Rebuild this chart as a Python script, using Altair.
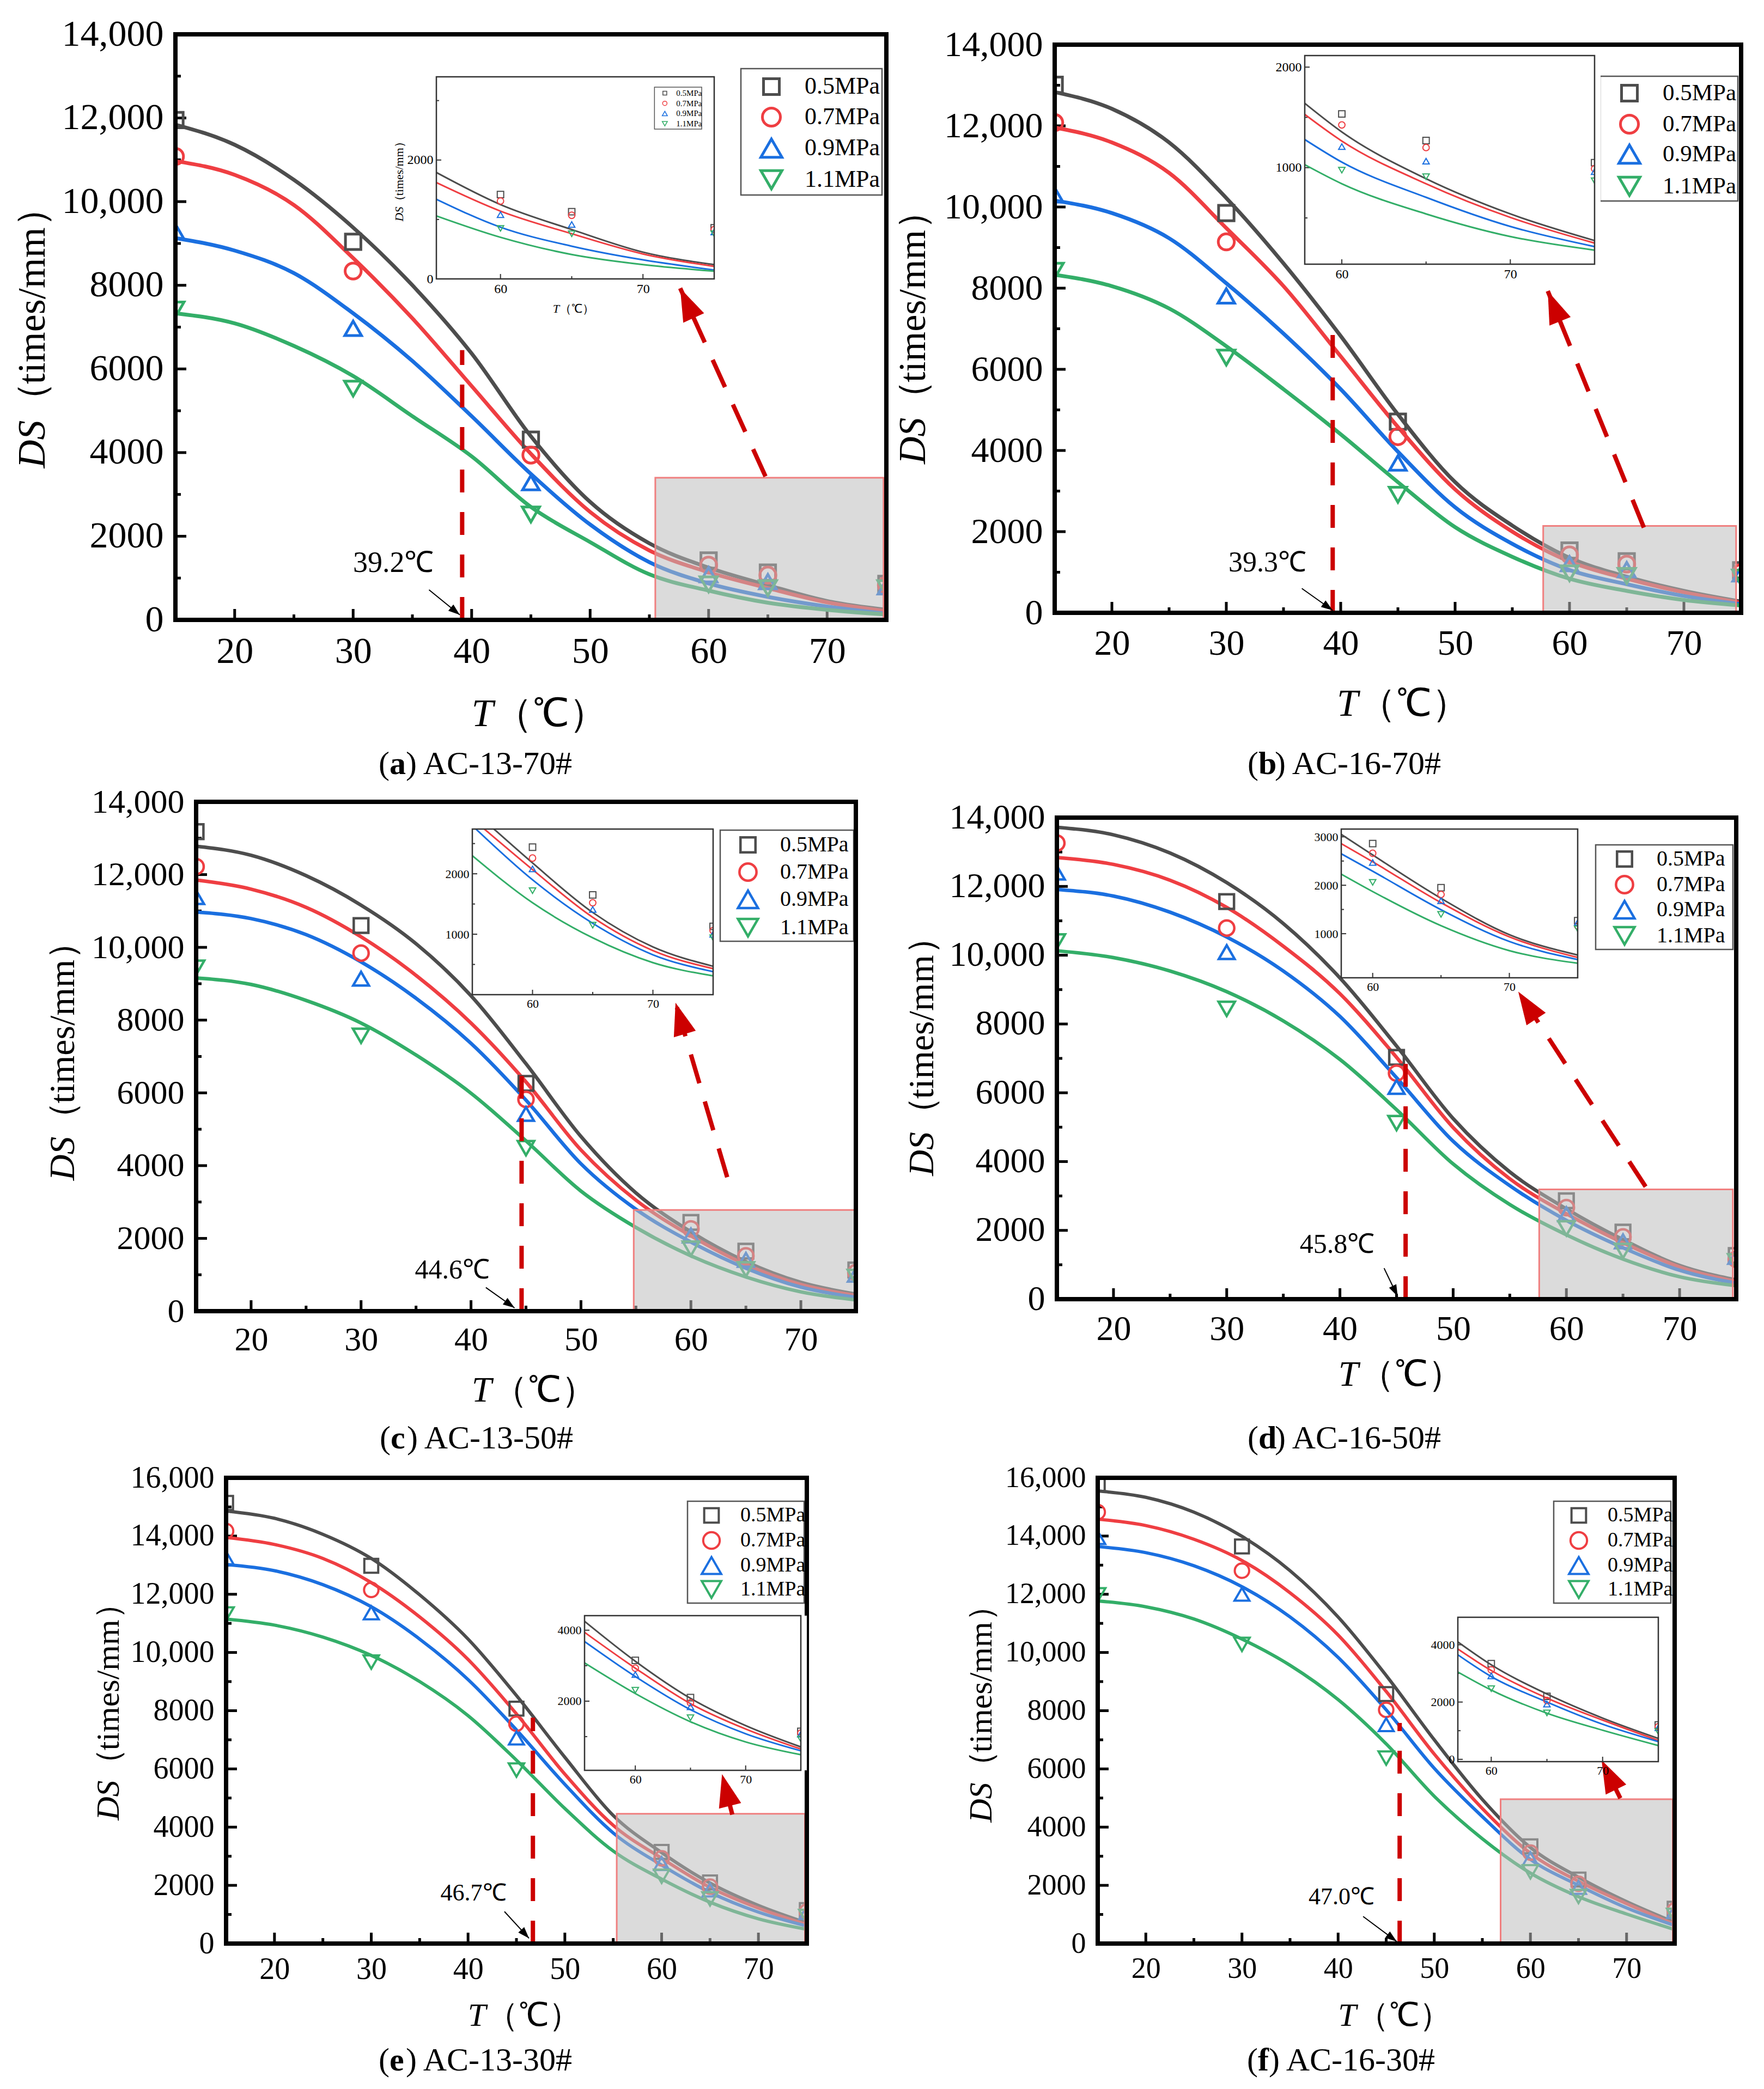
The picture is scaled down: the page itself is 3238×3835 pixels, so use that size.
import math

import altair as alt
import pandas as pd

W, H = 3222, 3819
FONT = "Liberation Serif"

SERIES = ["0.5MPa", "0.7MPa", "0.9MPa", "1.1MPa"]
COLORS = ["#4d4d4d", "#ef3e42", "#1a6fe0", "#33ae68"]
SHAPES = ["square", "circle", "triangle-up", "triangle-down"]

TEMPS = [15, 30, 45, 60, 65, 75]
FIT_T = [15, 20, 25, 30, 35, 40, 45, 50, 55, 60, 65, 70, 75]
X_LABELS = [20, 30, 40, 50, 60, 70]
X_MINOR = [25, 35, 45, 55, 65]

# (a) AC-13-70#
A_POINTS = {
    "0.5MPa": [11950, 9040, 4310, 1420, 1130, 860],
    "0.7MPa": [11080, 8340, 3940, 1310, 1070, 830],
    "0.9MPa": [9290, 6970, 3280, 1080, 915, 790],
    "1.1MPa": [7420, 5530, 2520, 850, 760, 760],
}
A_FIT = {
    "0.5MPa": [11840, 11360, 10520, 9380, 8000, 6370, 4390, 2820, 1830, 1250, 830, 450, 240],
    "0.7MPa": [10970, 10640, 9920, 8650, 7210, 5590, 3970, 2580, 1660, 1140, 760, 420, 210],
    "0.9MPa": [9130, 8830, 8290, 7330, 6190, 4870, 3490, 2280, 1380, 870, 550, 320, 150],
    "1.1MPa": [7330, 7090, 6550, 5830, 4870, 3910, 2700, 1860, 1090, 700, 410, 240, 130],
}
A_EDGE = {"0.5MPa": (55.5, 1790), "0.7MPa": (55.5, 1620), "0.9MPa": (55.5, 1340), "1.1MPa": (55.5, 1060)}

# (b) AC-16-70#
B_POINTS = {
    "0.5MPa": [13010, 9850, 4710, 1535, 1270, 1050],
    "0.7MPa": [12080, 9140, 4340, 1425, 1200, 990],
    "0.9MPa": [10300, 7810, 3690, 1210, 1065, 960],
    "1.1MPa": [8430, 6290, 2910, 975, 910, 870],
}
B_FIT = {
    "0.5MPa": [12830, 12420, 11590, 10220, 8610, 6820, 4890, 3220, 2150, 1355, 890, 540, 275],
    "0.7MPa": [11960, 11590, 10840, 9480, 8050, 6320, 4580, 3040, 2000, 1265, 840, 505, 250],
    "0.9MPa": [10160, 9850, 9230, 8120, 6880, 5510, 3970, 2600, 1700, 1055, 705, 415, 215],
    "1.1MPa": [8330, 8050, 7500, 6570, 5510, 4400, 3220, 2110, 1380, 840, 540, 315, 180],
}
B_EDGE = {"0.5MPa": (57.8, 1640), "0.7MPa": (57.8, 1530), "0.9MPa": (57.8, 1280), "1.1MPa": (57.8, 1030)}

# (c) AC-13-50#
C_POINTS = {
    "0.5MPa": [13180, 10600, 6260, 2440, 1650, 1130],
    "0.7MPa": [12220, 9840, 5820, 2260, 1520, 1060],
    "0.9MPa": [11380, 9140, 5420, 2080, 1410, 1000],
    "1.1MPa": [9440, 7570, 4480, 1720, 1150, 940],
}
C_FIT = {
    "0.5MPa": [12780, 12530, 11970, 11160, 10100, 8670, 6800, 4800, 3250, 2180, 1360, 790, 470],
    "0.7MPa": [11850, 11600, 11100, 10290, 9230, 7920, 6300, 4430, 3050, 2070, 1280, 730, 430],
    "0.9MPa": [10970, 10790, 10350, 9600, 8600, 7360, 5800, 4050, 2800, 1900, 1180, 660, 380],
    "1.1MPa": [9160, 8980, 8540, 7920, 7040, 5990, 4680, 3300, 2300, 1520, 940, 530, 310],
}
C_EDGE = {"0.5MPa": (56.8, 2740), "0.7MPa": (56.0, 2740), "0.9MPa": (55.3, 2740), "1.1MPa": (55.0, 2300)}

# (d) AC-16-50#
D_POINTS = {
    "0.5MPa": [None, 11560, 7030, 2860, 1950, 1270],
    "0.7MPa": [13260, 10790, 6570, 2660, 1810, 1160],
    "0.9MPa": [12400, 10090, 6170, 2470, 1680, 1230],
    "1.1MPa": [10400, 8440, 5120, 2060, 1400, 1100],
}
D_FIT = {
    "0.5MPa": [13720, 13500, 12970, 12110, 10920, 9340, 7360, 5250, 3700, 2625, 1730, 980, 560],
    "0.7MPa": [12840, 12640, 12180, 11390, 10260, 8880, 7030, 4990, 3500, 2485, 1640, 935, 510],
    "0.9MPa": [11910, 11720, 11250, 10530, 9540, 8220, 6440, 4590, 3300, 2290, 1495, 840, 465],
    "1.1MPa": [10130, 9930, 9540, 8940, 8090, 6970, 5510, 3930, 2750, 1870, 1165, 650, 390],
}
D_EDGE = {"0.5MPa": (57.7, 3050), "0.7MPa": (57.7, 2860), "0.9MPa": (57.7, 2650), "1.1MPa": (57.7, 2230)}

# (e) AC-13-30#
E_POINTS = {
    "0.5MPa": [15140, 12980, 8070, 3150, 2100, 1150],
    "0.7MPa": [14170, 12150, 7550, 2930, 1955, 1100],
    "0.9MPa": [13250, 11360, 7060, 2750, 1840, 1070],
    "1.1MPa": [11320, 9670, 5960, 2310, 1535, 930],
}
E_FIT = {
    "0.5MPa": [14860, 14610, 14060, 13230, 11980, 10460, 8520, 6400, 4400, 3125, 2080, 1310, 710],
    "0.7MPa": [13950, 13710, 13230, 12400, 11220, 9760, 7890, 5820, 4060, 2930, 1930, 1215, 650],
    "0.9MPa": [13020, 12810, 12330, 11570, 10460, 9070, 7340, 5470, 3800, 2695, 1760, 1080, 600],
    "1.1MPa": [11150, 10940, 10530, 9900, 9000, 7830, 6300, 4640, 3180, 2215, 1420, 850, 490],
}
E_EDGE = {"0.5MPa": (55.4, 4250), "0.7MPa": (55.4, 3940), "0.9MPa": (55.4, 3680), "1.1MPa": (55.4, 3080)}

# (f) AC-16-30#
F_POINTS = {
    "0.5MPa": [15790, 13640, 8570, 3340, 2200, 1200],
    "0.7MPa": [14820, 12810, 8030, 3125, 2055, 1140],
    "0.9MPa": [13950, 12000, 7520, 2915, 1930, 1100],
    "1.1MPa": [11980, 10280, 6370, 2465, 1620, 970],
}
F_FIT = {
    "0.5MPa": [15550, 15330, 14820, 13990, 12810, 11220, 9210, 7000, 4950, 3300, 2280, 1440, 730],
    "0.7MPa": [14580, 14360, 13890, 13160, 12050, 10600, 8660, 6510, 4640, 3100, 2140, 1370, 660],
    "0.9MPa": [13640, 13430, 12980, 12260, 11220, 9830, 8030, 6020, 4360, 2890, 2000, 1225, 620],
    "1.1MPa": [11770, 11570, 11150, 10460, 9560, 8380, 6860, 5060, 3600, 2420, 1610, 1015, 480],
}
F_EDGE = {"0.5MPa": (57.0, 4100), "0.7MPa": (57.0, 3850), "0.9MPa": (57.0, 3650), "1.1MPa": (57.0, 3050)}

PANELS = [
    dict(points=A_POINTS, fit=A_FIT, edge=A_EDGE, box=(314, 1619, 55, 1130), ymax=14000,
         tick_fs=68, title_fs=72, xt_off=173, yt_off=262, xt_j=-69, yt_j=171,
         caption=("a", "AC-13-70#"), cap_xy=(819, 1395),
         rect=(55.5, 74.76, 3400), crit=(39.2, 6450), label="39.2℃", label_at=(33.4, 1350), label_fs=54,
         black=((36.4, 720), (39.0, 120)), red=((64.8, 3430), (57.6, 7930)),
         ibox=(793, 1303, 133, 504), idom=(55.5, 75, 0, 3400), iy_lab=[0, 2000], iy_min=[1000, 3000],
         i_fs=24, i_titles=True,
         leg=dict(box=(1352, 1611, 118, 350), rows=(151, 207, 264, 322), sx=1408, tx=1469, fs=44, k=1.0),
         psize=[800, 1000, 1500, 1500], psw=5, lw=7),
    dict(points=B_POINTS, fit=B_FIT, edge=B_EDGE, box=(1928, 3188, 74, 1117), ymax=14000,
         tick_fs=66, title_fs=70, xt_off=168, yt_off=259, xt_j=-73, yt_j=163,
         caption=("b", "AC-16-70#"), cap_xy=(2414, 1395),
         rect=(57.7, 74.56, 2140), crit=(39.3, 6880), label="39.3℃", label_at=(33.6, 1240), label_fs=52,
         black=((36.6, 600), (39.3, 60)), red=((66.5, 2100), (58.1, 7930)),
         ibox=(2387, 2919, 94, 477), idom=(57.8, 75, 40, 2115), iy_lab=[1000, 2000], iy_min=[500, 1500],
         i_fs=24, i_titles=False,
         leg=dict(box=(2929, 3182, 132, 361), rows=(163, 220, 275, 334), sx=2983, tx=3044, fs=43, k=1.0),
         psize=[800, 1000, 1500, 1500], psw=5, lw=7),
    dict(points=C_POINTS, fit=C_FIT, edge=C_EDGE, box=(352, 1563, 1464, 2399), ymax=14000,
         tick_fs=62, title_fs=66, xt_off=146, yt_off=244, xt_j=-63, yt_j=147,
         caption=("c", "AC-13-50#"), cap_xy=(821, 2633),
         rect=(54.8, 74.9, 2780), crit=(44.6, 6800), label="44.6℃", label_at=(38.3, 1120), label_fs=50,
         black=((41.35, 650), (43.96, 90)), red=((63.3, 3680), (58.6, 8480)),
         ibox=(859, 1301, 1514, 1818), idom=(55, 75, 0, 2740), iy_lab=[1000, 2000], iy_min=[500, 1500, 2500],
         i_fs=22, i_titles=False,
         leg=dict(box=(1314, 1559, 1516, 1720), rows=(1543, 1593, 1643, 1695), sx=1365, tx=1424, fs=40, k=0.9),
         psize=[720, 900, 1350, 1350], psw=4.5, lw=6.5),
    dict(points=D_POINTS, fit=D_FIT, edge=D_EDGE, box=(1932, 3179, 1493, 2377), ymax=14000,
         tick_fs=64, title_fs=66, xt_off=139, yt_off=247, xt_j=-70, yt_j=135,
         caption=("d", "AC-16-50#"), cap_xy=(2414, 2633),
         rect=(57.6, 74.7, 3190), crit=(45.8, 6970), label="45.8℃", label_at=(39.75, 1580), label_fs=50,
         black=((43.9, 900), (45.1, 80)), red=((67.0, 3270), (55.75, 8940)),
         ibox=(2454, 2888, 1514, 1787), idom=(57.7, 75, 90, 3160), iy_lab=[1000, 2000, 3000],
         iy_min=[1500, 2500], i_fs=22, i_titles=False,
         leg=dict(box=(2921, 3173, 1543, 1735), rows=(1569, 1616, 1662, 1710), sx=2974, tx=3033, fs=40, k=0.9),
         psize=[720, 900, 1350, 1350], psw=4.5, lw=6.5),
    dict(points=E_POINTS, fit=E_FIT, edge=E_EDGE, box=(407, 1473, 2705, 3560), ymax=16000,
         tick_fs=56, title_fs=60, xt_off=133, yt_off=215, xt_j=-56, yt_j=128,
         caption=("e", "AC-13-30#"), cap_xy=(819, 3775),
         rect=(55.36, 74.8, 4460), crit=(46.7, 7760), label="46.7℃", label_at=(40.56, 1730), label_fs=44,
         black=((43.76, 1100), (46.3, 180)), red=((67.3, 4430), (66.24, 5820)),
         ibox=(1065, 1462, 2958, 3242), idom=(55.4, 75, 50, 4410), iy_lab=[2000, 4000],
         iy_min=[1000, 3000], i_fs=22, i_titles=False,
         leg=dict(box=(1254, 1468, 2748, 2935), rows=(2774, 2820, 2866, 2910), sx=1298, tx=1351, fs=38, k=0.85),
         psize=[650, 800, 1200, 1200], psw=4, lw=6),
    dict(points=F_POINTS, fit=F_FIT, edge=F_EDGE, box=(2007, 3066, 2705, 3560), ymax=16000,
         tick_fs=54, title_fs=60, xt_off=133, yt_off=213, xt_j=-55, yt_j=132,
         caption=("f", "AC-16-30#"), cap_xy=(2413, 3775),
         rect=(56.9, 74.8, 4960), crit=(46.4, 7580), label="47.0℃", label_at=(40.35, 1590), label_fs=44,
         black=((42.6, 930), (46.1, 70)), red=((69.35, 4990), (67.4, 6300)),
         ibox=(2668, 3036, 2961, 3226), idom=(57.0, 75, -80, 4960), iy_lab=[0, 2000, 4000],
         iy_min=[1000, 3000], i_fs=22, i_titles=False,
         leg=dict(box=(2844, 3059, 2748, 2935), rows=(2774, 2820, 2866, 2910), sx=2890, tx=2943, fs=38, k=0.85),
         psize=[650, 800, 1200, 1200], psw=4, lw=6),
]

ARROW = "M0,0L0.35,1L-0.35,1Z"
LEGEND_SIZES = [840, 1090, 1500, 1500]
ONE = pd.DataFrame({"k": [0]})
S_COLOR = alt.Scale(domain=SERIES, range=COLORS)
S_STROKE = alt.Scale(domain=SERIES, range=COLORS)
S_SHAPE = alt.Scale(domain=SERIES, range=SHAPES)


def points_df(points):
    rows = []
    for s in SERIES:
        for t, v in zip(TEMPS, points[s]):
            if v is not None:
                rows.append({"series": s, "T": t, "DS": v})
    return pd.DataFrame(rows)


def fit_df(fit):
    rows = []
    for s in SERIES:
        for t, v in zip(FIT_T, fit[s]):
            rows.append({"series": s, "T": t, "DS": v})
    return pd.DataFrame(rows)


def inset_fit_df(fit, edge):
    rows = []
    for s in SERIES:
        t0, v0 = edge[s]
        rows.append({"series": s, "T": t0, "DS": v0})
        for t, v in zip(FIT_T, fit[s]):
            if t > t0:
                rows.append({"series": s, "T": t, "DS": v})
    return pd.DataFrame(rows)


def text_at(x, y, text, fs, **kw):
    style = dict(font=FONT, fontSize=fs, color="black", baseline="middle")
    style.update(kw)
    return alt.Chart(ONE).mark_text(**style).encode(
        x=alt.value(x), y=alt.value(y), text=alt.value(text))


def axis_titles(xc, xy, yx, yc, fs):
    # "T（℃）" under the x axis and "DS（times/mm）" beside the y axis, variable names in italics;
    # the latin part is its own mark so it keeps the serif face
    w_open = 0.92 * fs
    w_unit = 4.0 * fs
    return [
        text_at(xc, xy, "T", fs, align="right", fontStyle="italic"),
        text_at(xc, xy, "（℃）", fs, align="left"),
        text_at(yx, yc, "DS", fs, align="right", fontStyle="italic", angle=270),
        text_at(yx, yc, "（", fs, align="left", angle=270),
        text_at(yx, yc - w_open, "times/mm", fs, align="left", angle=270),
        text_at(yx, yc - w_open - w_unit, "）", fs, align="left", angle=270),
    ]


def legend_layers(box, rows, sym_x, text_x, fs, k, sw, sizes, box_sw):
    x0, x1, y0, y1 = box
    out = [
        alt.Chart(ONE).mark_rect(fill="white", stroke="#555555", strokeWidth=box_sw).encode(
            x=alt.value(x0), x2=alt.value(x1), y=alt.value(y0), y2=alt.value(y1))
    ]
    for i, s in enumerate(SERIES):
        out += [
            alt.Chart(ONE).mark_point(shape=SHAPES[i], filled=False, color=COLORS[i], opacity=1,
                                      size=sizes[i] * k, strokeWidth=sw).encode(
                x=alt.value(sym_x), y=alt.value(rows[i])),
            text_at(text_x, rows[i], s, fs, align="left"),
        ]
    return out


def make_panel(p):
    L, R, T, B = p["box"]
    ymax = p["ymax"]
    y_major = list(range(0, ymax + 1, 2000))
    y_minor = list(range(1000, ymax, 2000))

    sx = alt.Scale(domain=[15, 75], range=[L, R], nice=False, zero=False)
    sy = alt.Scale(domain=[0, ymax], range=[B, T], nice=False, zero=False)
    ax = alt.Axis(orient="bottom", offset=B - H, values=X_LABELS, ticks=False, domain=False,
                  grid=False, labelFont=FONT, labelFontSize=p["tick_fs"], labelColor="black",
                  labelPadding=round(p["tick_fs"] * 0.36), labelFlush=False, labelLimit=1000,
                  title=None, zindex=1)
    ay = alt.Axis(orient="left", offset=-L, values=y_major, ticks=False, domain=False, grid=False,
                  labelExpr="datum.value >= 10000 ? format(datum.value, ',') : format(datum.value, 'd')",
                  labelFont=FONT, labelFontSize=p["tick_fs"], labelColor="black", labelPadding=22,
                  labelFlush=False, labelLimit=1000, title=None, zindex=1)

    def xf(f):
        return alt.X(f, type="quantitative", scale=sx, axis=ax)

    def yf(f):
        return alt.Y(f, type="quantitative", scale=sy, axis=ay)

    def xd(v):
        return alt.XDatum(v, type="quantitative", scale=sx, axis=ax)

    def yd(v):
        return alt.YDatum(v, type="quantitative", scale=sy, axis=ay)

    def px(t):
        return L + (t - 15) / 60 * (R - L)

    def py(v):
        return B - v / ymax * (B - T)

    def heading(a, b):
        dx = px(b[0]) - px(a[0])
        dy = py(b[1]) - py(a[1])
        return math.degrees(math.atan2(dx, -dy)) % 360

    tick_rule = dict(color="black", strokeWidth=5)
    main_layers = [
        alt.Chart(pd.DataFrame({"T": X_LABELS})).mark_rule(**tick_rule).encode(
            x=xf("T"), y=yd(0), y2=alt.value(B - 20)),
        alt.Chart(pd.DataFrame({"T": X_MINOR})).mark_rule(**tick_rule).encode(
            x=xf("T"), y=yd(0), y2=alt.value(B - 10)),
        alt.Chart(pd.DataFrame({"DS": y_major})).mark_rule(**tick_rule).encode(
            y=yf("DS"), x=xd(15), x2=alt.value(L + 20)),
        alt.Chart(pd.DataFrame({"DS": y_minor})).mark_rule(**tick_rule).encode(
            y=yf("DS"), x=xd(15), x2=alt.value(L + 10)),
        alt.Chart(fit_df(p["fit"])).mark_line(strokeWidth=p["lw"], interpolate="monotone").encode(
            x=xf("T"), y=yf("DS"),
            stroke=alt.Stroke("series:N", scale=S_STROKE, legend=None)),
        alt.Chart(points_df(p["points"])).mark_point(filled=False, strokeWidth=p["psw"], opacity=1).encode(
            x=xf("T"), y=yf("DS"),
            color=alt.Color("series:N", scale=S_COLOR, legend=None),
            shape=alt.Shape("series:N", scale=S_SHAPE, legend=None),
            size=alt.Size("series:N", scale=alt.Scale(domain=SERIES, range=p["psize"]), legend=None)),
    ]

    x0, x1, ytop = p["rect"]
    main_layers.append(
        alt.Chart(ONE).mark_rect(fill="#bdbdbd", fillOpacity=0.55, stroke="#f07f7f", strokeWidth=3).encode(
            x=xd(x0), x2=alt.datum(x1), y=yd(0), y2=alt.datum(ytop)))

    tc, ctop = p["crit"]
    main_layers.append(
        alt.Chart(ONE).mark_rule(color="#cc0000", strokeWidth=8, strokeDash=[42, 36]).encode(
            x=xd(tc), y=yd(0), y2=alt.datum(ctop)))

    r0, r1 = p["red"]
    main_layers += [
        alt.Chart(ONE).mark_rule(color="#cc0000", strokeWidth=8, strokeDash=[55, 35]).encode(
            x=xd(r0[0]), y=yd(r0[1]), x2=alt.datum(r1[0]), y2=alt.datum(r1[1])),
        alt.Chart(ONE).mark_point(shape=ARROW, filled=True, color="#cc0000", opacity=1, size=14400,
                                  angle=heading(r0, r1)).encode(x=xd(r1[0]), y=yd(r1[1])),
    ]

    b0, b1 = p["black"]
    main_layers += [
        alt.Chart(ONE).mark_text(font=FONT, fontSize=p["label_fs"], color="black", align="center",
                                 baseline="middle").encode(
            x=xd(p["label_at"][0]), y=yd(p["label_at"][1]), text=alt.value(p["label"])),
        alt.Chart(ONE).mark_rule(color="black", strokeWidth=2).encode(
            x=xd(b0[0]), y=yd(b0[1]), x2=alt.datum(b1[0]), y2=alt.datum(b1[1])),
        alt.Chart(ONE).mark_point(shape=ARROW, filled=True, color="black", opacity=1, size=1800,
                                  angle=heading(b0, b1)).encode(x=xd(b1[0]), y=yd(b1[1])),
    ]

    lg = p["leg"]
    main_layers += legend_layers(lg["box"], lg["rows"], lg["sx"], lg["tx"], lg["fs"], lg["k"],
                                 p["psw"], LEGEND_SIZES, 2.5)
    # hide the halves of edge markers that fall outside the frame
    main_layers += [
        alt.Chart(ONE).mark_rect(fill="white").encode(
            x=alt.value(L - 24), x2=alt.value(L), y=alt.value(T - 4), y2=alt.value(B + 4)),
        alt.Chart(ONE).mark_rect(fill="white").encode(
            x=alt.value(R), x2=alt.value(R + 24), y=alt.value(T - 4), y2=alt.value(B + 4)),
        alt.Chart(ONE).mark_rect(fillOpacity=0, stroke="black", strokeWidth=8).encode(
            x=xd(15), x2=alt.datum(75), y=yd(0), y2=alt.datum(ymax)),
    ]
    main_layers += axis_titles((L + R) / 2 + p["xt_j"], B + p["xt_off"], L - p["yt_off"],
                               (T + B) / 2 + p["yt_j"], p["title_fs"])
    main = alt.layer(*main_layers)

    # inset
    IL, IR, IT, IB = p["ibox"]
    ix0, ix1, iy0, iy1 = p["idom"]
    isx = alt.Scale(domain=[ix0, ix1], range=[IL, IR], nice=False, zero=False)
    isy = alt.Scale(domain=[iy0, iy1], range=[IB, IT], nice=False, zero=False)
    iax = alt.Axis(orient="bottom", offset=IB - H, values=[60, 70], ticks=False, domain=False,
                   grid=False, labelFont=FONT, labelFontSize=p["i_fs"], labelColor="black",
                   labelPadding=6, labelFlush=False, zindex=1, title=None)
    iay = alt.Axis(orient="left", offset=-IL, values=p["iy_lab"], ticks=False, domain=False,
                   grid=False, labelFont=FONT, labelFontSize=p["i_fs"], labelColor="black",
                   labelPadding=6, labelFlush=False, zindex=1, format="d", title=None)

    def ixf(f):
        return alt.X(f, type="quantitative", scale=isx, axis=iax)

    def iyf(f):
        return alt.Y(f, type="quantitative", scale=isy, axis=iay)

    def ixd(v):
        return alt.XDatum(v, type="quantitative", scale=isx, axis=iax)

    def iyd(v):
        return alt.YDatum(v, type="quantitative", scale=isy, axis=iay)

    itick = dict(color="#333333", strokeWidth=2)
    inset_pts = points_df(p["points"])
    inset_layers = [
        alt.Chart(ONE).mark_rect(fill="white").encode(
            x=ixd(ix0), x2=alt.datum(ix1), y=iyd(iy0), y2=alt.datum(iy1)),
        alt.Chart(pd.DataFrame({"T": [60, 70]})).mark_rule(**itick).encode(
            x=ixf("T"), y=iyd(iy0), y2=alt.value(IB - 9)),
        alt.Chart(pd.DataFrame({"T": [65]})).mark_rule(**itick).encode(
            x=ixf("T"), y=iyd(iy0), y2=alt.value(IB - 5)),
        alt.Chart(pd.DataFrame({"DS": p["iy_lab"]})).mark_rule(**itick).encode(
            y=iyf("DS"), x=ixd(ix0), x2=alt.value(IL + 9)),
        alt.Chart(pd.DataFrame({"DS": p["iy_min"]})).mark_rule(**itick).encode(
            y=iyf("DS"), x=ixd(ix0), x2=alt.value(IL + 5)),
        alt.Chart(inset_fit_df(p["fit"], p["edge"])).mark_line(strokeWidth=3, interpolate="monotone").encode(
            x=ixf("T"), y=iyf("DS"),
            stroke=alt.Stroke("series:N", scale=S_STROKE, legend=None)),
        alt.Chart(inset_pts[inset_pts["T"] >= 60]).mark_point(filled=False, strokeWidth=2, size=140,
                                                               opacity=1).encode(
            x=ixf("T"), y=iyf("DS"),
            color=alt.Color("series:N", scale=S_COLOR, legend=None),
            shape=alt.Shape("series:N", scale=S_SHAPE, legend=None)),
        alt.Chart(ONE).mark_rect(fill="white").encode(
            x=alt.value(IR), x2=alt.value(IR + 11), y=alt.value(IT), y2=alt.value(IB)),
        alt.Chart(ONE).mark_rect(fillOpacity=0, stroke="#333333", strokeWidth=2.5).encode(
            x=ixd(ix0), x2=alt.datum(ix1), y=iyd(iy0), y2=alt.datum(iy1)),
    ]
    if p["i_titles"]:
        # the small legend and axis titles drawn inside the first inset
        lx0, lx1 = IL + 0.785 * (IR - IL), IL + 0.955 * (IR - IL)
        ly0, ly1 = IT + 19, IT + 96
        rows = [ly0 + 11 + 18.7 * i for i in range(4)]
        inset_layers += legend_layers((lx0, lx1, ly0, ly1), rows, lx0 + 19, lx0 + 40, 15, 0.06,
                                      1.5, LEGEND_SIZES, 1.5)
        inset_layers += axis_titles((IL + IR) / 2 - 29, IB + 55, IL - 68, (IT + IB) / 2 + 53, 22)
    inset = alt.layer(*inset_layers)

    return alt.layer(main, inset).resolve_scale(x="independent", y="independent")


def caption_layers(p):
    letter, name = p["caption"]
    cx, cy = p["cap_xy"]
    x0 = cx - 112
    return [
        text_at(x0, cy, "(", 60, align="right"),
        text_at(x0, cy, letter, 60, align="left", fontWeight="bold"),
        text_at(x0 + (20 if letter == "f" else 30), cy, ") " + name, 60, align="left"),
    ]


panels = [make_panel(p) for p in PANELS]
captions = [layer for p in PANELS for layer in caption_layers(p)]

chart = (
    alt.layer(*panels, *captions)
    .resolve_scale(x="independent", y="independent", color="independent", shape="independent",
                   size="independent", stroke="independent")
    .properties(width=W, height=H, padding=0, background="white",
                autosize=alt.AutoSizeParams(type="none"))
    .configure_view(strokeWidth=0)
)

chart.save("out.html", embed_options={"renderer": "svg", "actions": False})
